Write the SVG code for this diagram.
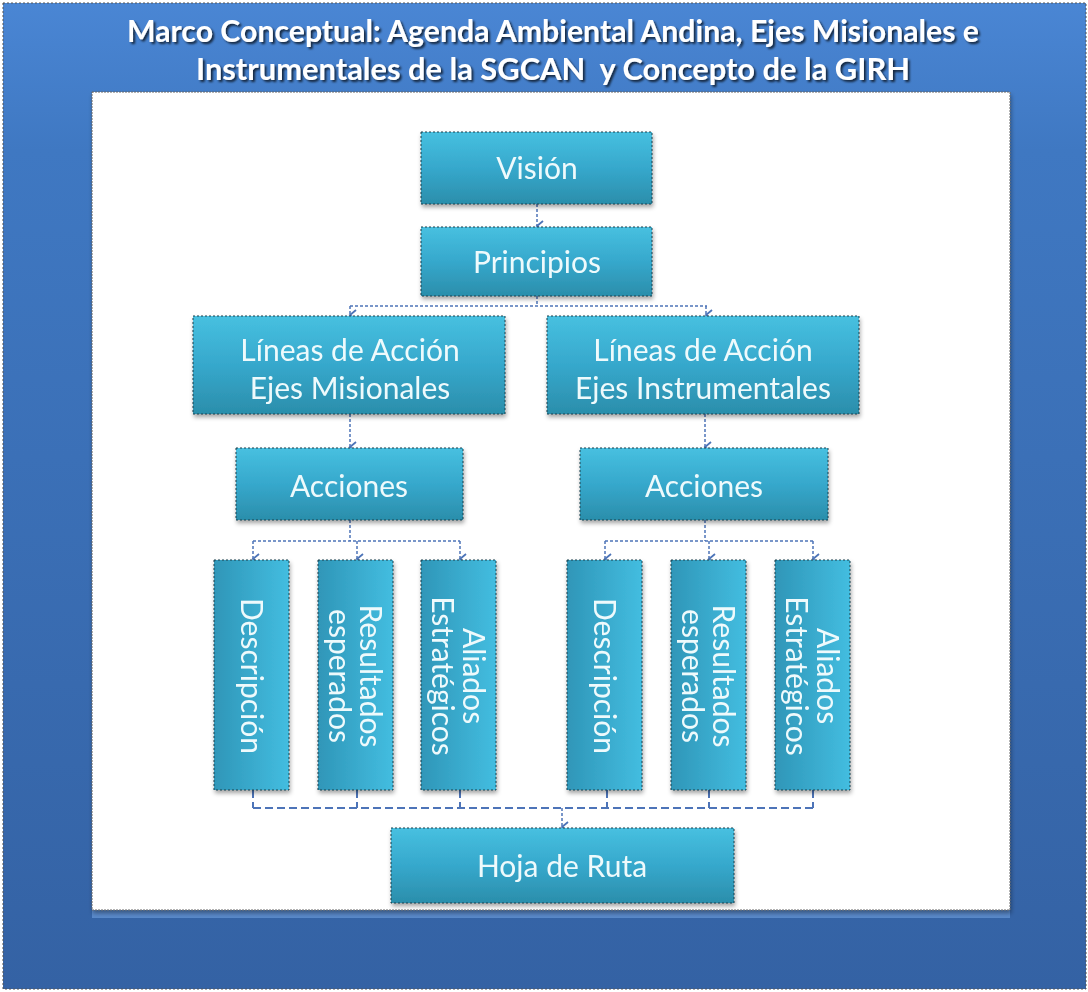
<svg xmlns="http://www.w3.org/2000/svg" width="1088" height="992" viewBox="0 0 1088 992">
<style>
.node rect{fill:url(#tg);stroke:#1d3f4a;stroke-width:1;stroke-dasharray:2 2}
.node text{font-family:Lato,"Open Sans",sans-serif;font-size:30px;fill:#eefafc;text-anchor:middle}
.vt{font-family:Lato,"Open Sans",sans-serif;font-size:29px;fill:#eefafc;text-anchor:middle}
.title{font-family:Lato,"Open Sans",sans-serif;font-weight:bold;font-size:30px;fill:#fff;text-anchor:middle;white-space:pre}
.con{fill:none;stroke:#4d74b8;stroke-width:1.5;stroke-dasharray:3 2}
.con2{fill:none;stroke:#4d74b8;stroke-width:2;stroke-dasharray:8 4}
</style>
<defs>
<linearGradient id="bg" x1="0" y1="0" x2="0" y2="1">
<stop offset="0" stop-color="#4a86d4"/>
<stop offset="0.15" stop-color="#3f78c2"/>
<stop offset="1" stop-color="#3462a4"/>
</linearGradient>
<linearGradient id="tg" x1="0" y1="0" x2="0" y2="1">
<stop offset="0" stop-color="#47c0e0"/>
<stop offset="0.5" stop-color="#36a8cc"/>
<stop offset="1" stop-color="#2b8eab"/>
</linearGradient>
<linearGradient id="tgv" x1="0" y1="0" x2="1" y2="0">
<stop offset="0" stop-color="#2f96b8"/>
<stop offset="1" stop-color="#43bde0"/>
</linearGradient>
<filter id="sh" x="-10%" y="-10%" width="120%" height="130%">
<feDropShadow dx="1" dy="3" stdDeviation="2" flood-color="#000" flood-opacity="0.35"/>
</filter>
<filter id="ts" x="-5%" y="-20%" width="110%" height="150%">
<feDropShadow dx="2" dy="2" stdDeviation="1.2" flood-color="#000" flood-opacity="0.7"/>
</filter>
<marker id="ar" markerWidth="12" markerHeight="10" refX="6" refY="8" orient="auto" markerUnits="userSpaceOnUse" viewBox="0 0 12 10">
<path d="M1,2 L6,8 L11,2" fill="none" stroke="#4d74b8" stroke-width="1.8"/>
</marker>
</defs>
<g id="background">
<rect x="3" y="3" width="1083" height="986" fill="url(#bg)" stroke="#555" stroke-width="1" stroke-dasharray="2 2"/>
<rect x="92" y="908" width="918" height="10" fill="#6a98d8" opacity="0.7"/>
<rect x="92" y="92" width="918" height="818" fill="#fff" stroke="#666" stroke-width="1" stroke-dasharray="2 1" filter="url(#sh)"/>
</g>
<g id="title" filter="url(#ts)">
<text class="title" x="553" y="42" textLength="852" lengthAdjust="spacingAndGlyphs">Marco Conceptual: Agenda Ambiental Andina, Ejes Misionales e</text>
<text class="title" x="553" y="80" textLength="714" lengthAdjust="spacingAndGlyphs" xml:space="preserve">Instrumentales de la SGCAN  y Concepto de la GIRH</text>
</g>
<g id="connectors">
<path class="con" d="M537,204 V226" marker-end="url(#ar)"/>
<path class="con" d="M537,296 V306 M350,306 H707" />
<path class="con" d="M350,306 V315" marker-end="url(#ar)"/>
<path class="con" d="M706,306 V315" marker-end="url(#ar)"/>
<path class="con" d="M350,414 V447" marker-end="url(#ar)"/>
<path class="con" d="M705,414 V447" marker-end="url(#ar)"/>
<path class="con" d="M350,520 V541 M253,541 H460"/>
<path class="con" d="M253,541 V559" marker-end="url(#ar)"/>
<path class="con" d="M357,541 V559" marker-end="url(#ar)"/>
<path class="con" d="M460,541 V559" marker-end="url(#ar)"/>
<path class="con" d="M705,520 V541 M605,541 H813"/>
<path class="con" d="M605,541 V559" marker-end="url(#ar)"/>
<path class="con" d="M709,541 V559" marker-end="url(#ar)"/>
<path class="con" d="M813,541 V559" marker-end="url(#ar)"/>
<path class="con2" d="M253,790 V808 M357,790 V808 M460,790 V808 M607,790 V808 M709,790 V808 M813,790 V808 M253,808 H813"/>
<path class="con" d="M562,808 V827" marker-end="url(#ar)"/>
</g>
<g id="vision" class="node" filter="url(#sh)">
<rect x="421" y="132" width="231" height="72"/>
<text x="537" y="179">Visión</text>
</g>
<g id="principios" class="node" filter="url(#sh)">
<rect x="421" y="227" width="231" height="69"/>
<text x="537" y="273">Principios</text>
</g>
<g id="lineas-misionales" class="node" filter="url(#sh)">
<rect x="193" y="316" width="312" height="98"/>
<text x="350" y="361">Líneas de Acción</text>
<text x="350" y="399">Ejes Misionales</text>
</g>
<g id="lineas-instrumentales" class="node" filter="url(#sh)">
<rect x="547" y="316" width="312" height="98"/>
<text x="703" y="361">Líneas de Acción</text>
<text x="703" y="399">Ejes Instrumentales</text>
</g>
<g id="acciones-left" class="node" filter="url(#sh)">
<rect x="236" y="448" width="227" height="72"/>
<text x="349" y="497">Acciones</text>
</g>
<g id="acciones-right" class="node" filter="url(#sh)">
<rect x="580" y="448" width="248" height="72"/>
<text x="704" y="497">Acciones</text>
</g>
<g id="descripcion-left" class="node" filter="url(#sh)">
<rect x="214" y="560" width="75" height="230" style="fill:url(#tgv)"/>
<text class="vt" transform="translate(251,676) rotate(90)" x="0" y="10">Descripción</text>
</g>
<g id="resultados-left" class="node" filter="url(#sh)">
<rect x="318" y="560" width="75" height="230" style="fill:url(#tgv)"/>
<text class="vt" transform="translate(355,676) rotate(90)" x="0" y="-5">Resultados</text>
<text class="vt" transform="translate(355,676) rotate(90)" x="0" y="26">esperados</text>
</g>
<g id="aliados-left" class="node" filter="url(#sh)">
<rect x="421" y="560" width="75" height="230" style="fill:url(#tgv)"/>
<text class="vt" transform="translate(458,676) rotate(90)" x="0" y="-5">Aliados</text>
<text class="vt" transform="translate(458,676) rotate(90)" x="0" y="26">Estratégicos</text>
</g>
<g id="descripcion-right" class="node" filter="url(#sh)">
<rect x="567" y="560" width="75" height="230" style="fill:url(#tgv)"/>
<text class="vt" transform="translate(604,676) rotate(90)" x="0" y="10">Descripción</text>
</g>
<g id="resultados-right" class="node" filter="url(#sh)">
<rect x="671" y="560" width="75" height="230" style="fill:url(#tgv)"/>
<text class="vt" transform="translate(708,676) rotate(90)" x="0" y="-5">Resultados</text>
<text class="vt" transform="translate(708,676) rotate(90)" x="0" y="26">esperados</text>
</g>
<g id="aliados-right" class="node" filter="url(#sh)">
<rect x="775" y="560" width="75" height="230" style="fill:url(#tgv)"/>
<text class="vt" transform="translate(812,676) rotate(90)" x="0" y="-5">Aliados</text>
<text class="vt" transform="translate(812,676) rotate(90)" x="0" y="26">Estratégicos</text>
</g>
<g id="hoja-de-ruta" class="node" filter="url(#sh)">
<rect x="391" y="828" width="343" height="75"/>
<text x="562" y="877">Hoja de Ruta</text>
</g>
</svg>
